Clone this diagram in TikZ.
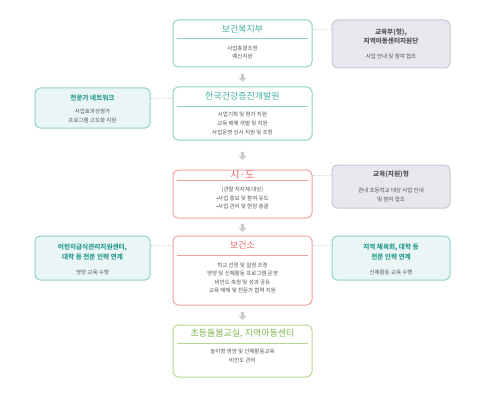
\documentclass[tikz,border=0pt]{standalone}
\usepackage{fontspec}
\setmainfont{Noto Sans CJK KR}
\usetikzlibrary{shapes.arrows,calc}
\definecolor{tealB}{HTML}{8FD2CA}
\definecolor{tealT}{HTML}{45B0A3}
\definecolor{tealD}{HTML}{2E9D90}
\definecolor{tealF}{HTML}{EAF6F5}
\definecolor{redB}{HTML}{F0A3A3}
\definecolor{redT}{HTML}{E66A6B}
\definecolor{grnB}{HTML}{B8D792}
\definecolor{grnT}{HTML}{82B54D}
\definecolor{grayF}{HTML}{E7E7ED}
\definecolor{grayB}{HTML}{C8C8D3}
\definecolor{txt}{HTML}{555555}
\definecolor{arr}{HTML}{CACACA}
\tikzset{
  box/.style={draw, rounded corners=5pt, line width=1pt, inner sep=0pt, fill=white},
  ctitle/.style={font=\fontsize{9}{10}\selectfont, inner sep=0pt},
  body/.style={font=\fontsize{5.5}{8.6}\selectfont, text=txt, align=center, inner sep=0pt},
  stitle/.style={font=\fontsize{6.6}{9.2}\selectfont\bfseries, align=center, inner sep=0pt},
  dotc/.style={draw=grayB, dotted, line width=0.9pt},
  darrow/.style={single arrow, shape border rotate=270, fill=arr, draw=none,
     minimum height=8pt, minimum width=8pt, single arrow head extend=1.5pt, inner sep=0.8pt}
}
\begin{document}
\begin{tikzpicture}[x=1pt,y=-1pt]
\useasboundingbox (0,0) rectangle (481,401);
% central boxes
\node[box, draw=tealB, minimum width=139pt, minimum height=47pt] (b1) at (242.5,43.5) {};
\node[ctitle, text=tealT] (t1) at (242.5,29.5) {보건복지부};
\draw[tealB, line width=1pt] (177,39) -- (308,39);
\node[body] (d1) at (242.5,52.5) {사업총괄조정\\예산지원};

\node[box, draw=tealB, minimum width=139pt, minimum height=53pt] (b2) at (242.5,113.5) {};
\node[ctitle, text=tealT] (t2) at (242.5,96.5) {한국건강증진개발원};
\draw[tealB, line width=1pt] (177,106) -- (308,106);
\node[body] (d2) at (242.5,123.5) {사업기획 및 평가 지원\\교육 매체 개발 및 지원\\사업운영 상시 지원 및 조정};

\node[box, draw=redB, minimum width=139pt, minimum height=48pt] (b3) at (242.5,194) {};
\node[ctitle, text=redT, font=\fontsize{10}{11}\selectfont] (t3) at (242.5,175) {시·도};
\draw[redB, line width=1pt] (177,180.5) -- (308,180.5);
\node[body] (d3) at (242.5,198) {(관할 지자체 대상)\\•사업 홍보 및 참여 유도\\•사업 관리 및 현장 총괄};

\node[box, draw=redB, minimum width=139pt, minimum height=69pt] (b4) at (242.5,270.5) {};
\node[ctitle, text=redT] (t4) at (242.5,245.5) {보건소};
\draw[redB, line width=1pt] (177,255) -- (308,255);
\node[body] (d4) at (242.5,278) {학교 선정 및 일정 조정\\영양 및 신체활동 프로그램 운영\\비만도 측정 및 성과 공유\\교육 매체 및 전문가 협력 지원};

\node[box, draw=grnB, minimum width=139pt, minimum height=52pt] (b5) at (242.5,351) {};
\node[ctitle, text=grnT] (t5) at (242.5,334) {초등돌봄교실, 지역아동센터};
\draw[grnB, line width=1pt] (177,343) -- (308,343);
\node[body] (d5) at (242.5,356) {놀이형 영양 및 신체활동교육\\비만도 관리};

% side boxes
\node[box, draw=grayB, fill=grayF, minimum width=118pt, minimum height=48pt] (r1) at (391,44) {};
\node[stitle, text=txt, font=\fontsize{6.6}{9.6}\selectfont\bfseries] (rt1) at (391,36.5) {교육부(청),\\지역아동센터지원단};
\node[body] (rd1) at (391,56.5) {사업 안내 및 참여 협조};

\node[box, draw=tealB, fill=tealF, minimum width=115pt, minimum height=40pt] (l1) at (92.5,108) {};
\node[stitle, text=tealD] (lt1) at (92.5,98) {전문가 네트워크};
\node[body] (ld1) at (92.5,116) {사업효과성평가\\프로그램 고도화 지원};

\node[box, draw=grayB, fill=grayF, minimum width=118pt, minimum height=43pt] (r2) at (391,186.5) {};
\node[stitle, text=txt, font=\fontsize{6.6}{9}\selectfont\bfseries] (rt2) at (391,174) {교육(지원)청};
\node[body] (rd2) at (391,195) {관내 초등학교 대상 사업 안내\\및 참여 협조};

\node[box, draw=tealB, fill=tealF, minimum width=115pt, minimum height=44pt] (l3) at (92.5,258) {};
\node[stitle, text=tealD] (lt3) at (92.5,252) {어린이급식관리지원센터,\\대학 등 전문 인력 연계};
\node[body] (ld3) at (92.5,272) {영양 교육 수행};

\node[box, draw=tealB, fill=tealF, minimum width=118pt, minimum height=44pt] (r3) at (391,258) {};
\node[stitle, text=tealD] (rt3) at (391,252) {지역 체육회, 대학 등\\전문 인력 연계};
\node[body] (rd3) at (391,272) {신체활동 교육 수행};

% dotted connectors
\draw[dotc] (b1.east |- t1) -- (r1.west |- t1);
\draw[dotc] (l1.east |- lt1) -- (b2.west |- lt1);
\draw[dotc] (b3.east |- t3) -- (r2.west |- t3);
\draw[dotc] (l3.east |- t4) -- (b4.west |- t4);
\draw[dotc] (b4.east |- t4) -- (r3.west |- t4);

% down arrows
\node[darrow] (a1) at ($(b1.south)!0.5!(b2.north)$) {};
\node[darrow] (a2) at ($(b2.south)!0.5!(b3.north)$) {};
\node[darrow] (a3) at ($(b3.south)!0.5!(b4.north)$) {};
\node[darrow] (a4) at ($(b4.south)!0.5!(b5.north)$) {};
\end{tikzpicture}
\end{document}
